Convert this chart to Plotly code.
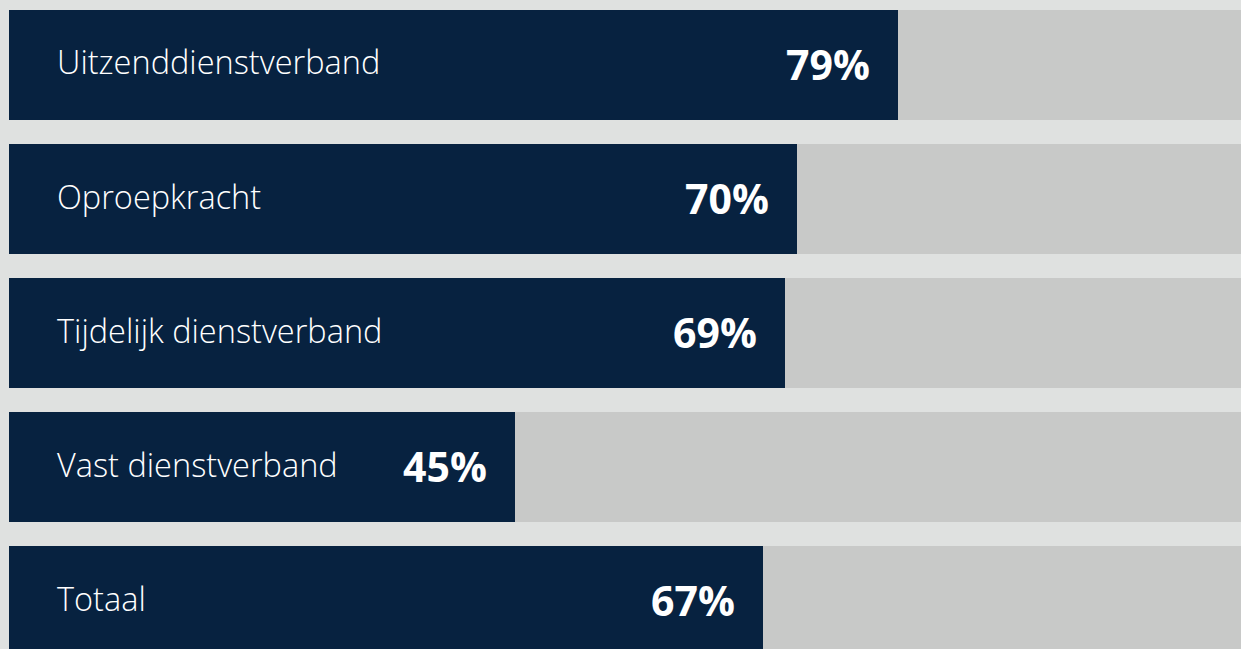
import plotly.graph_objects as go

categories = ["Uitzenddienstverband", "Oproepkracht", "Tijdelijk dienstverband",
              "Vast dienstverband", "Totaal"]
values = [79, 70, 69, 45, 67]
value_labels = ["79%", "70%", "69%", "45%", "67%"]

NAVY = "#072240"
TRACK = "#c8c9c8"
BG = "#dfe1e0"

x_min, x_max = -0.8, 109.5
y_pos = list(range(len(categories)))

fig = go.Figure()
fig.add_trace(go.Bar(
    y=y_pos, x=[x_max + 5] * len(categories), orientation="h",
    marker=dict(color=TRACK, line=dict(width=0)), width=0.82,
    hoverinfo="skip", showlegend=False,
))
fig.add_trace(go.Bar(
    y=y_pos, x=values, orientation="h",
    marker=dict(color=NAVY, line=dict(width=0)), width=0.82,
    hoverinfo="skip", showlegend=False,
))

for yi, (cat, v, lab) in enumerate(zip(categories, values, value_labels)):
    fig.add_annotation(
        x=0, y=yi, text=cat, showarrow=False, xanchor="left", yanchor="middle",
        xshift=46, yshift=3,
        font=dict(family="Open Sans", size=32.5, color="white", weight=300),
    )
    fig.add_annotation(
        x=v, y=yi, text="<b>" + lab + "</b>", showarrow=False, xanchor="right",
        yanchor="middle", xshift=-26, yshift=1,
        font=dict(family="Open Sans", size=41, color="white"),
    )

fig.update_layout(
    width=1241, height=649,
    margin=dict(l=0, r=0, t=0, b=0),
    paper_bgcolor=BG, plot_bgcolor=BG,
    barmode="overlay", bargap=0,
    xaxis=dict(range=[x_min, x_max], visible=False, showgrid=False, zeroline=False),
    yaxis=dict(range=[4.358, -0.485], visible=False, showgrid=False, zeroline=False),
)

fig.write_html(
    "out.html",
    config={"displayModeBar": False},
    post_script="document.body.style.margin='0';document.body.style.background='" + BG + "';",
)
